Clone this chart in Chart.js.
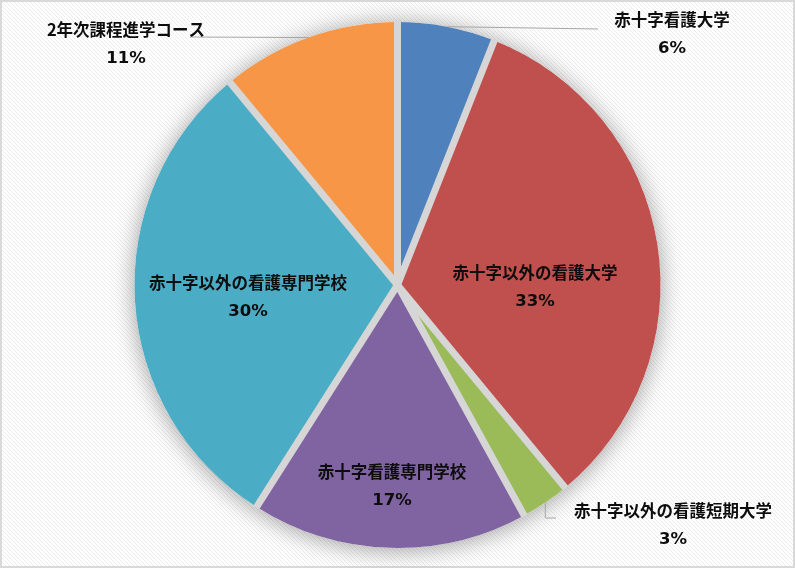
<!DOCTYPE html>
<html lang="ja">
<head>
<meta charset="utf-8">
<title>進路内訳</title>
<script src="https://cdn.jsdelivr.net/npm/chart.js@4/dist/chart.umd.min.js"></script>
<style>
  html, body { margin: 0; padding: 0; background: #fff; }
  #wrap { width: 795px; height: 568px; }
</style>
</head>
<body>
<div id="wrap"><canvas id="pieChart" width="795" height="568"></canvas></div>
<script>
// data
const categories = ['赤十字看護大学', '赤十字以外の看護大学', '赤十字以外の看護短期大学', '赤十字看護専門学校', '赤十字以外の看護専門学校', '2年次課程進学コース'];
const shares = [6, 33, 3, 17, 30, 11];
const sliceColors = ['#4F81BD', '#C0504D', '#9BBB59', '#8064A2', '#4BACC6', '#F79646'];

// where each data label sits (text layout only), leader end for the outside ones
const labelSpots = [
    { x: 672, y: 20, lead: [598, 29] },
    { x: 535, y: 273 },
    { x: 673, y: 511, lead: [556, 518], elbow: true },
    { x: 392, y: 472 },
    { x: 248, y: 283 },
    { x: 126, y: 30, lead: [190, 37] }
];

const NAME_FONT = 'bold 16.5px "Noto Sans CJK JP", "Noto Sans", sans-serif';
const PCT_FONT = 'bold 16.5px "DejaVu Sans", "Noto Sans CJK JP", sans-serif';

// striped background + frame
const backgroundPlugin = {
    id: 'stripes',
    beforeDraw(chart) {
        const ctx = chart.ctx;
        const tile = document.createElement('canvas');
        tile.width = 4; tile.height = 4;
        const t = tile.getContext('2d');
        t.fillStyle = '#ffffff';
        t.fillRect(0, 0, 4, 4);
        t.strokeStyle = '#ececec';
        t.lineWidth = 1;
        t.beginPath();
        t.moveTo(-1, -1); t.lineTo(5, 5);
        t.moveTo(-1, 3); t.lineTo(1, 5);
        t.moveTo(3, -1); t.lineTo(5, 1);
        t.stroke();
        ctx.save();
        ctx.fillStyle = ctx.createPattern(tile, 'repeat');
        ctx.fillRect(0, 0, chart.width, chart.height);
        ctx.strokeStyle = '#d9d9d9';
        ctx.lineWidth = 2;
        ctx.strokeRect(1, 1, chart.width - 2, chart.height - 2);
        ctx.restore();
    }
};

// soft shadow under the pie, then grey gaps between slices
const shadowGapPlugin = {
    id: 'shadowGap',
    beforeDatasetsDraw(chart) {
        const arc = chart.getDatasetMeta(0).data[0];
        if (!arc) return;
        const ctx = chart.ctx;
        ctx.save();
        ctx.shadowColor = 'rgba(0,0,0,0.38)';
        ctx.shadowBlur = 24;
        ctx.shadowOffsetY = 2;
        ctx.fillStyle = '#ffffff';
        ctx.beginPath();
        ctx.arc(arc.x, arc.y, arc.outerRadius, 0, Math.PI * 2);
        ctx.fill();
        ctx.restore();
    },
    afterDatasetsDraw(chart) {
        const ctx = chart.ctx;
        ctx.save();
        ctx.strokeStyle = '#d6d6d6';
        ctx.lineWidth = 7;
        chart.getDatasetMeta(0).data.forEach(arc => {
            ctx.beginPath();
            ctx.moveTo(arc.x, arc.y);
            ctx.lineTo(arc.x + Math.cos(arc.startAngle) * (arc.outerRadius + 1),
                       arc.y + Math.sin(arc.startAngle) * (arc.outerRadius + 1));
            ctx.stroke();
        });
        ctx.restore();
    }
};

// data labels with leader lines
const labelPlugin = {
    id: 'sliceLabels',
    afterDraw(chart) {
        const ctx = chart.ctx;
        const total = shares.reduce((a, b) => a + b, 0);
        ctx.save();
        chart.getDatasetMeta(0).data.forEach((arc, i) => {
            const spot = labelSpots[i];
            if (spot.lead) {
                const mid = (arc.startAngle + arc.endAngle) / 2;
                const px = arc.x + Math.cos(mid) * arc.outerRadius;
                const py = arc.y + Math.sin(mid) * arc.outerRadius;
                ctx.strokeStyle = '#a6a6a6';
                ctx.lineWidth = 1;
                ctx.beginPath();
                ctx.moveTo(px, py);
                if (spot.elbow) ctx.lineTo(px, spot.lead[1]);
                ctx.lineTo(spot.lead[0], spot.lead[1]);
                ctx.stroke();
            }
            ctx.fillStyle = '#0d0d0d';
            ctx.textAlign = 'center';
            ctx.textBaseline = 'middle';
            ctx.font = NAME_FONT;
            ctx.fillText(categories[i], spot.x, spot.y);
            ctx.font = PCT_FONT;
            ctx.fillText(Math.round(shares[i] / total * 100) + '%', spot.x, spot.y + 29);
        });
        ctx.restore();
    }
};

const pieChart = new Chart(document.getElementById('pieChart').getContext('2d'), {
    type: 'pie',
    data: {
        labels: categories,
        datasets: [{
            data: shares,
            backgroundColor: sliceColors,
            borderWidth: 0
        }]
    },
    options: {
        responsive: false,
        animation: false,
        layout: { padding: { top: 22, bottom: 20, left: 0, right: 0 } },
        plugins: {
            legend: { display: false },
            tooltip: { enabled: false }
        }
    },
    plugins: [backgroundPlugin, shadowGapPlugin, labelPlugin]
});
</script>
</body>
</html>
